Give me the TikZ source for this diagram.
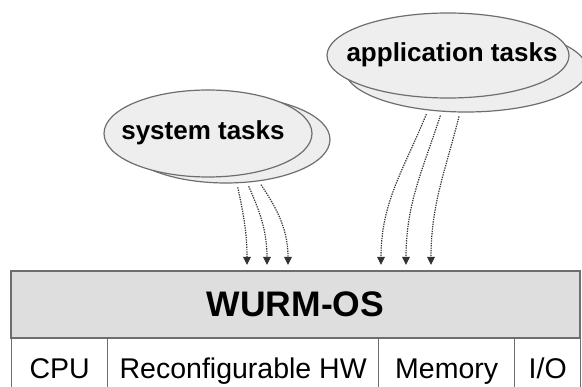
\documentclass[tikz,border=0pt]{standalone}
\usepackage{fontspec}
\setmainfont{Liberation Sans}
\usetikzlibrary{arrows.meta, shapes.geometric}

\definecolor{osgray}{HTML}{DEDEDE}
\definecolor{taskgray}{HTML}{EEEEEE}
\definecolor{edgegray}{HTML}{6E6E6E}

\begin{document}
\begin{tikzpicture}[%
        x = 1pt,
        y = 1pt,
        line width = 1.4pt,
        line cap = round,
        > = {Triangle[length = 8pt, width = 7.5pt]},
        task/.style = {%
            ellipse,
            draw = edgegray,
            fill = taskgray,
            line width = 1.2pt,
            inner sep = 0pt
        },
        tasklabel/.style = {font = \fontsize{26}{30}\selectfont\bfseries},
        cell/.style = {%
            rectangle,
            draw = edgegray,
            anchor = north west,
            minimum height = 60pt,
            inner sep = 0pt,
            text height = 20.3pt,
            text depth = 0pt,
            font = \fontsize{28.5}{32}\selectfont
        },
        call/.style = {%
            ->,
            line cap = butt,
            dash pattern = on 1.3pt off 1.1pt,
            draw = black!80,
            line width = 1.2pt,
            shorten <= 4pt
        }
    ]

        \useasboundingbox (0, 0) rectangle (582, -387);

        % The task clouds, the back copy first.
        \node[task, minimum width = 208pt, minimum height = 87pt] (sysback) at (226, -139.5) {};
        \node[task, minimum width = 208pt, minimum height = 87pt] (sys) at (208, -133.5) {};
        \node[tasklabel] (systext) at (203, -133) {system tasks};

        \node[task, minimum width = 242pt, minimum height = 85pt] (appback) at (466, -69.5) {};
        \node[task, minimum width = 242pt, minimum height = 85pt] (app) at (448, -55.5) {};
        \node[tasklabel] (apptext) at (452, -55) {application tasks};

        % The operating system layer.
        \node[%
            rectangle,
            draw = edgegray,
            fill = osgray,
            minimum width = 569pt,
            minimum height = 67pt,
            font = \fontsize{35.5}{40}\selectfont\bfseries
        ] (os) at (295.5, -304.5) {WURM-OS};

        % The hardware underneath.
        \node[cell, minimum width = 96pt] (cpu) at (11, -338) {CPU};
        \node[cell, minimum width = 271pt] (rhw) at (107, -338) {Reconfigurable HW};
        \node[cell, minimum width = 136pt] (mem) at (378, -338) {Memory};
        \node[cell, minimum width = 66pt] (io) at (514, -338) {I/O};

        % Where the calls end on top of the OS.
        \coordinate (sysin1) at (247, -265);
        \coordinate (sysin2) at (267, -265);
        \coordinate (sysin3) at (288, -265);
        \coordinate (appin1) at (381, -265);
        \coordinate (appin2) at (406, -265);
        \coordinate (appin3) at (431, -265);

        % Calls from the system tasks.
        \draw[call] (sysback.-76) to[out = -78, in = 90] (sysin1);
        \draw[call] (sysback.-64) to[out = -66, in = 90] (sysin2);
        \draw[call] (sysback.-52) to[out = -56, in = 90] (sysin3);

        % Calls from the application tasks.
        \draw[call] (appback.-133) to[out = -112, in = 90] (appin1);
        \draw[call] (appback.-120) to[out = -108, in = 90] (appin2);
        \draw[call] (appback.-98) to[out = -104, in = 90] (appin3);
    \end{tikzpicture}
\end{document}
